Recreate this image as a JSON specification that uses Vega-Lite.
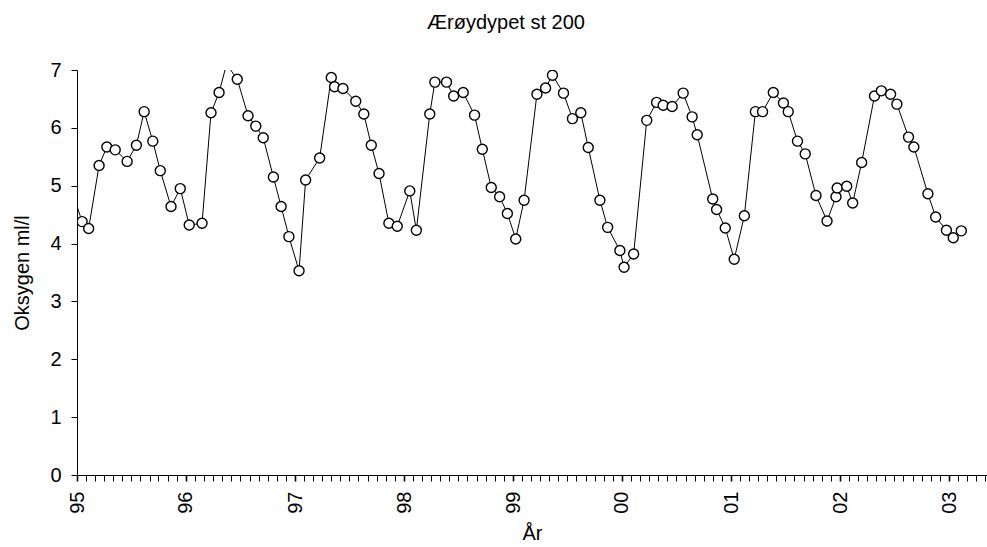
{
  "$schema": "https://vega.github.io/schema/vega-lite/v6.json",
  "width": 910,
  "height": 405,
  "autosize": {"type": "none"},
  "padding": {"left": 77, "top": 70, "right": 0, "bottom": 72},
  "background": "white",
  "config": {
    "view": {"stroke": null},
    "font": "Liberation Sans",
    "axis": {
      "labelFont": "Liberation Sans",
      "titleFont": "Liberation Sans",
      "labelColor": "black",
      "titleColor": "black",
      "domainColor": "black",
      "tickColor": "black",
      "titleFontWeight": "normal",
      "grid": false
    }
  },
  "title": {
    "text": "Ærøydypet st 200",
    "font": "Liberation Sans",
    "fontSize": 20,
    "fontWeight": "normal",
    "color": "black",
    "anchor": "middle",
    "dx": -26,
    "offset": 27
  },
  "data": {
    "values": [
      {"dato": "1994-12-16", "oksygen": 4.9},
      {"dato": "1995-01-18", "oksygen": 4.38},
      {"dato": "1995-02-09", "oksygen": 4.26},
      {"dato": "1995-03-16", "oksygen": 5.35},
      {"dato": "1995-04-11", "oksygen": 5.67},
      {"dato": "1995-05-09", "oksygen": 5.62},
      {"dato": "1995-06-18", "oksygen": 5.42},
      {"dato": "1995-07-19", "oksygen": 5.70},
      {"dato": "1995-08-14", "oksygen": 6.28},
      {"dato": "1995-09-12", "oksygen": 5.77},
      {"dato": "1995-10-07", "oksygen": 5.26},
      {"dato": "1995-11-12", "oksygen": 4.64},
      {"dato": "1995-12-13", "oksygen": 4.95},
      {"dato": "1996-01-12", "oksygen": 4.32},
      {"dato": "1996-02-24", "oksygen": 4.35},
      {"dato": "1996-03-25", "oksygen": 6.26},
      {"dato": "1996-04-21", "oksygen": 6.61},
      {"dato": "1996-05-16", "oksygen": 7.1},
      {"dato": "1996-06-21", "oksygen": 6.84},
      {"dato": "1996-07-27", "oksygen": 6.21},
      {"dato": "1996-08-22", "oksygen": 6.03},
      {"dato": "1996-09-16", "oksygen": 5.83},
      {"dato": "1996-10-20", "oksygen": 5.15},
      {"dato": "1996-11-15", "oksygen": 4.64},
      {"dato": "1996-12-11", "oksygen": 4.12},
      {"dato": "1997-01-14", "oksygen": 3.53},
      {"dato": "1997-02-05", "oksygen": 5.10},
      {"dato": "1997-03-24", "oksygen": 5.48},
      {"dato": "1997-05-02", "oksygen": 6.87},
      {"dato": "1997-05-13", "oksygen": 6.71},
      {"dato": "1997-06-10", "oksygen": 6.68},
      {"dato": "1997-07-23", "oksygen": 6.46},
      {"dato": "1997-08-19", "oksygen": 6.24},
      {"dato": "1997-09-13", "oksygen": 5.70},
      {"dato": "1997-10-09", "oksygen": 5.21},
      {"dato": "1997-11-11", "oksygen": 4.35},
      {"dato": "1997-12-09", "oksygen": 4.30},
      {"dato": "1998-01-20", "oksygen": 4.91},
      {"dato": "1998-02-11", "oksygen": 4.23},
      {"dato": "1998-03-28", "oksygen": 6.24},
      {"dato": "1998-04-14", "oksygen": 6.79},
      {"dato": "1998-05-23", "oksygen": 6.79},
      {"dato": "1998-06-16", "oksygen": 6.55},
      {"dato": "1998-07-18", "oksygen": 6.61},
      {"dato": "1998-08-25", "oksygen": 6.22},
      {"dato": "1998-09-20", "oksygen": 5.63},
      {"dato": "1998-10-20", "oksygen": 4.97},
      {"dato": "1998-11-17", "oksygen": 4.81},
      {"dato": "1998-12-13", "oksygen": 4.52},
      {"dato": "1999-01-10", "oksygen": 4.08},
      {"dato": "1999-02-07", "oksygen": 4.75},
      {"dato": "1999-03-22", "oksygen": 6.58},
      {"dato": "1999-04-20", "oksygen": 6.69},
      {"dato": "1999-05-13", "oksygen": 6.91},
      {"dato": "1999-06-19", "oksygen": 6.60},
      {"dato": "1999-07-19", "oksygen": 6.16},
      {"dato": "1999-08-16", "oksygen": 6.26},
      {"dato": "1999-09-10", "oksygen": 5.66},
      {"dato": "1999-10-19", "oksygen": 4.75},
      {"dato": "1999-11-14", "oksygen": 4.28},
      {"dato": "1999-12-25", "oksygen": 3.88},
      {"dato": "2000-01-08", "oksygen": 3.59},
      {"dato": "2000-02-09", "oksygen": 3.82},
      {"dato": "2000-03-24", "oksygen": 6.13},
      {"dato": "2000-04-26", "oksygen": 6.44},
      {"dato": "2000-05-18", "oksygen": 6.39},
      {"dato": "2000-06-17", "oksygen": 6.37},
      {"dato": "2000-07-24", "oksygen": 6.60},
      {"dato": "2000-08-23", "oksygen": 6.19},
      {"dato": "2000-09-09", "oksygen": 5.88},
      {"dato": "2000-10-31", "oksygen": 4.77},
      {"dato": "2000-11-13", "oksygen": 4.59},
      {"dato": "2000-12-12", "oksygen": 4.27},
      {"dato": "2001-01-11", "oksygen": 3.73},
      {"dato": "2001-02-14", "oksygen": 4.48},
      {"dato": "2001-03-23", "oksygen": 6.28},
      {"dato": "2001-04-16", "oksygen": 6.28},
      {"dato": "2001-05-22", "oksygen": 6.61},
      {"dato": "2001-06-25", "oksygen": 6.43},
      {"dato": "2001-07-11", "oksygen": 6.28},
      {"dato": "2001-08-11", "oksygen": 5.77},
      {"dato": "2001-09-06", "oksygen": 5.55},
      {"dato": "2001-10-12", "oksygen": 4.83},
      {"dato": "2001-11-18", "oksygen": 4.39},
      {"dato": "2001-12-18", "oksygen": 4.81},
      {"dato": "2001-12-22", "oksygen": 4.96},
      {"dato": "2002-01-23", "oksygen": 4.99},
      {"dato": "2002-02-12", "oksygen": 4.70},
      {"dato": "2002-03-14", "oksygen": 5.40},
      {"dato": "2002-04-26", "oksygen": 6.55},
      {"dato": "2002-05-19", "oksygen": 6.64},
      {"dato": "2002-06-19", "oksygen": 6.58},
      {"dato": "2002-07-10", "oksygen": 6.41},
      {"dato": "2002-08-18", "oksygen": 5.84},
      {"dato": "2002-09-05", "oksygen": 5.67},
      {"dato": "2002-10-22", "oksygen": 4.86},
      {"dato": "2002-11-17", "oksygen": 4.46},
      {"dato": "2002-12-23", "oksygen": 4.23},
      {"dato": "2003-01-15", "oksygen": 4.10},
      {"dato": "2003-02-11", "oksygen": 4.22}
    ]
  },
  "encoding": {
    "x": {
      "field": "dato",
      "type": "temporal",
      "title": "År",
      "scale": {
        "type": "utc",
        "domain": [
          {"year": 1995, "month": 1, "date": 1, "utc": true},
          {"year": 2003, "month": 5, "date": 8, "utc": true}
        ]
      },
      "axis": {
        "tickCount": {"interval": "month", "step": 1},
        "labelExpr": "utcmonth(datum.value) === 0 ? utcFormat(datum.value, '%y') : ''",
        "labelAngle": 270,
        "labelAlign": "right",
        "labelBaseline": "middle",
        "labelOverlap": false,
        "labelBound": false,
        "labelFlush": false,
        "labelFontSize": 20,
        "labelPadding": 10,
        "tickSize": 6,
        "tickWidth": {"condition": {"test": "utcmonth(datum.value) === 0", "value": 1.6}, "value": 1},
        "titleFontSize": 20,
        "titlePadding": 10
      }
    },
    "y": {
      "field": "oksygen",
      "type": "quantitative",
      "title": "Oksygen ml/l",
      "scale": {"domain": [0, 7], "nice": false, "zero": true},
      "axis": {
        "values": [0, 1, 2, 3, 4, 5, 6, 7],
        "tickSize": 6,
        "labelFontSize": 20,
        "labelPadding": 10,
        "titleFontSize": 20,
        "titlePadding": 17
      }
    }
  },
  "layer": [
    {
      "mark": {"type": "line", "clip": true, "color": "black", "strokeWidth": 1}
    },
    {
      "transform": [
        {"filter": "datum.oksygen <= 7 && time(datum.dato) >= utc(1995, 0, 1)"}
      ],
      "mark": {"type": "point", "clip": true, "shape": "circle", "filled": true, "fill": "white", "stroke": "black", "strokeWidth": 1.4, "size": 100, "opacity": 1}
    }
  ]
}
